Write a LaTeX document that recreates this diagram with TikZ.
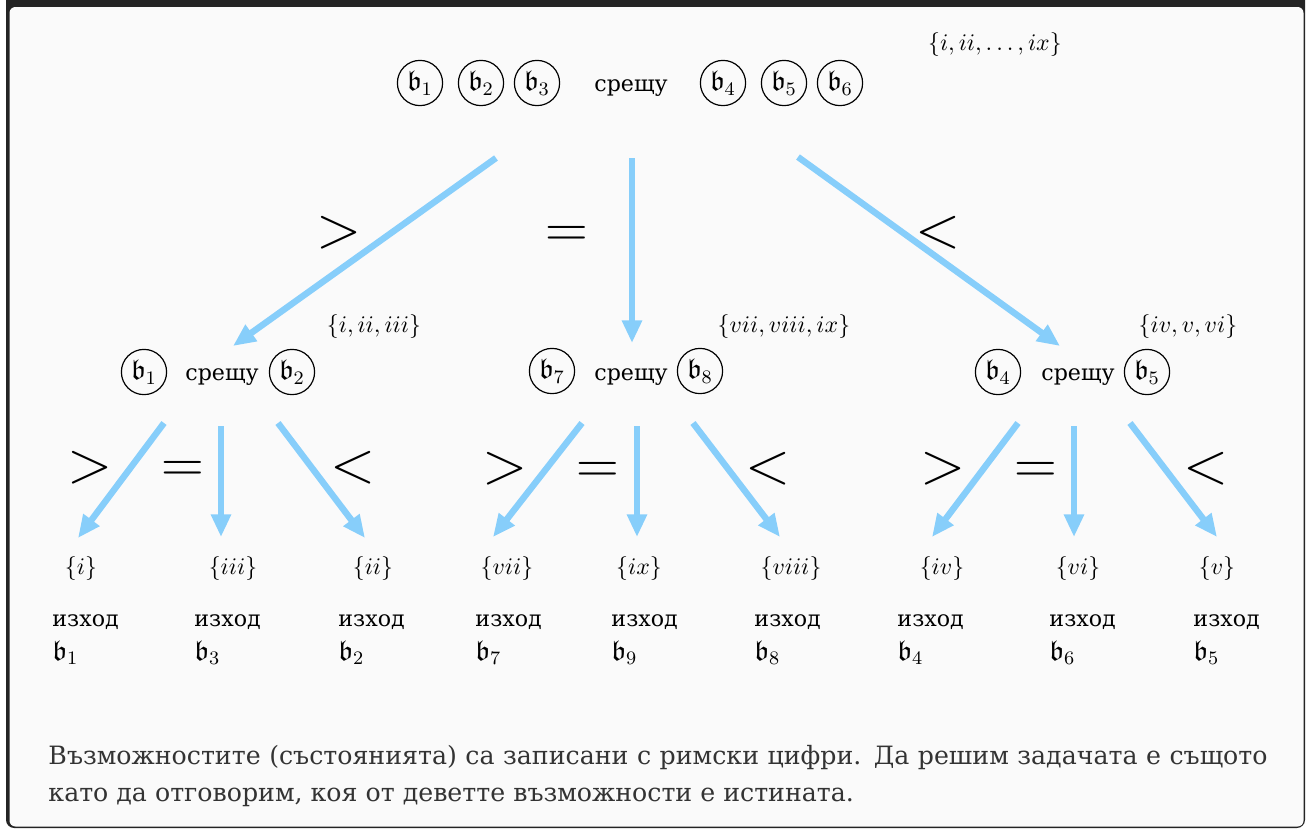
\documentclass[tikz,border=0pt]{standalone}
\usepackage{amsmath,amssymb}
\usepackage{fontspec}
\setmainfont{DejaVu Serif}
\newfontfamily\labelfont{DejaVu Serif}
\usetikzlibrary{arrows.meta, positioning}
\definecolor{framegray}{HTML}{242424}
\definecolor{paneback}{HTML}{FAFAFA}
\definecolor{arrowblue}{HTML}{87CEFA}
\definecolor{textgray}{HTML}{333333}

\begin{document}
\begin{tikzpicture}[
  x=0.42pt, y=-0.42pt,
  coin/.style={circle, draw, line width=0.5pt, inner sep=0.5pt,
               minimum size=19pt, font=\large},
  word/.style={font=\labelfont\fontsize{9.3}{12}\selectfont, inner sep=0pt},
  cmp/.style={font=\Huge, inner sep=0pt, anchor=base},
  states/.style={font=\normalsize, inner sep=0pt},
  exitlbl/.style={font=\labelfont\fontsize{9.3}{12}\selectfont, inner sep=0pt, anchor=base west},
  arr/.style={-{Triangle[length=9.5pt, width=8pt]}, arrowblue, line width=2.7pt},
]
  \useasboundingbox (0,0) rectangle (1306,829);
  % frame
  \begin{scope}
    \clip (0,0) rectangle (1306,829);
    \fill[framegray, rounded corners=3.4pt] (6,-20) rectangle (1305,828);
    \fill[paneback, rounded corners=2.5pt] (9.5,7) rectangle (1303.5,826.5);
  \end{scope}

  % first weighing
  \node[coin] (b1) at (420,83) {$\mathfrak{b}_1$};
  \node[coin] (b2) at (481,83) {$\mathfrak{b}_2$};
  \node[coin] (b3) at (537,83) {$\mathfrak{b}_3$};
  \node[word, anchor=base] (vs) at (631,91) {срещу};
  \node[coin] (b4) at (723,83) {$\mathfrak{b}_4$};
  \node[coin] (b5) at (784,83) {$\mathfrak{b}_5$};
  \node[coin] (b6) at (840,83) {$\mathfrak{b}_6$};
  \node[states] (all) at (995,45) {$\{i, ii, \ldots, ix\}$};

  \node[cmp] (gt) at (339,247) {$>$};
  \node[cmp] (eq) at (567,247) {$=$};
  \node[cmp] (lt) at (938,247) {$<$};

  \coordinate (sL) at (496,158);
  \coordinate (sM) at (632,158);
  \coordinate (sR) at (798,157);
  \coordinate (eL) at (233,346);
  \coordinate (eM) at (632,343);
  \coordinate (eR) at (1060,346);
  \draw[arr] (sL) -- (eL);
  \draw[arr] (sM) -- (eM);
  \draw[arr] (sR) -- (eR);

  % second weighing, left
  \node[coin] (lb1) at (144,372) {$\mathfrak{b}_1$};
  \node[word, anchor=base] (lvs) at (222,380) {срещу};
  \node[coin] (lb2) at (292,372) {$\mathfrak{b}_2$};
  \node[states] (lset) at (374,327) {$\{i, ii, iii\}$};

  % second weighing, middle
  \node[coin] (mb7) at (552,371) {$\mathfrak{b}_7$};
  \node[word, anchor=base] (mvs) at (631,380) {срещу};
  \node[coin] (mb8) at (700,371) {$\mathfrak{b}_8$};
  \node[states] (mset) at (784,327) {$\{vii, viii, ix\}$};

  % second weighing, right
  \node[coin] (rb4) at (998,372) {$\mathfrak{b}_4$};
  \node[word, anchor=base] (rvs) at (1078,380) {срещу};
  \node[coin] (rb5) at (1147,372) {$\mathfrak{b}_5$};
  \node[states] (rset) at (1188,327) {$\{iv, v, vi\}$};

  % comparison signs
  \node[cmp] (lgt) at (90,482)   {$>$};
  \node[cmp] (leq) at (183,482)  {$=$};
  \node[cmp] (llt) at (353,482)  {$<$};
  \node[cmp] (mgt) at (505,483)  {$>$};
  \node[cmp] (meq) at (598,483)  {$=$};
  \node[cmp] (mlt) at (768,483)  {$<$};
  \node[cmp] (rgt) at (943,483)  {$>$};
  \node[cmp] (req) at (1036,483) {$=$};
  \node[cmp] (rlt) at (1206,483) {$<$};

  \coordinate (ls1) at (164,423);  \coordinate (le1) at (78,538);
  \coordinate (ls2) at (221,426);  \coordinate (le2) at (221,537);
  \coordinate (ls3) at (278,423);  \coordinate (le3) at (365,538);
  \coordinate (ms1) at (582,423);  \coordinate (me1) at (493,537);
  \coordinate (ms2) at (637,426);  \coordinate (me2) at (637,537);
  \coordinate (ms3) at (693,423);  \coordinate (me3) at (780,537);
  \coordinate (rs1) at (1018,423); \coordinate (re1) at (932,537);
  \coordinate (rs2) at (1074,426); \coordinate (re2) at (1074,537);
  \coordinate (rs3) at (1130,423); \coordinate (re3) at (1217,537);
  \draw[arr] (ls1) -- (le1);
  \draw[arr] (ls2) -- (le2);
  \draw[arr] (ls3) -- (le3);
  \draw[arr] (ms1) -- (me1);
  \draw[arr] (ms2) -- (me2);
  \draw[arr] (ms3) -- (me3);
  \draw[arr] (rs1) -- (re1);
  \draw[arr] (rs2) -- (re2);
  \draw[arr] (rs3) -- (re3);

  % outcomes
  \node[states] (o1) at (81,569)   {$\{i\}$};
  \node[states] (o3) at (233,569)  {$\{iii\}$};
  \node[states] (o2) at (373,569)  {$\{ii\}$};
  \node[states] (o7) at (507,569)  {$\{vii\}$};
  \node[states] (o9) at (639,569)  {$\{ix\}$};
  \node[states] (o8) at (791,569)  {$\{viii\}$};
  \node[states] (o4) at (942,569)  {$\{iv\}$};
  \node[states] (o6) at (1078,569) {$\{vi\}$};
  \node[states] (o5) at (1217,569) {$\{v\}$};

  \node[exitlbl] (x1) at (52,626)   {изход};
  \node[exitlbl] (x3) at (194,626)  {изход};
  \node[exitlbl] (x2) at (338,626)  {изход};
  \node[exitlbl] (x7) at (475,626)  {изход};
  \node[exitlbl] (x9) at (611,626)  {изход};
  \node[exitlbl] (x8) at (754,626)  {изход};
  \node[exitlbl] (x4) at (897,626)  {изход};
  \node[exitlbl] (x6) at (1049,626) {изход};
  \node[exitlbl] (x5) at (1193,626) {изход};
  \node[exitlbl, font=\large] (c1) at (52,660)   {$\mathfrak{b}_1$};
  \node[exitlbl, font=\large] (c3) at (194,660)  {$\mathfrak{b}_3$};
  \node[exitlbl, font=\large] (c2) at (338,660)  {$\mathfrak{b}_2$};
  \node[exitlbl, font=\large] (c7) at (475,660)  {$\mathfrak{b}_7$};
  \node[exitlbl, font=\large] (c9) at (611,660)  {$\mathfrak{b}_9$};
  \node[exitlbl, font=\large] (c8) at (754,660)  {$\mathfrak{b}_8$};
  \node[exitlbl, font=\large] (c4) at (897,660)  {$\mathfrak{b}_4$};
  \node[exitlbl, font=\large] (c6) at (1049,660) {$\mathfrak{b}_6$};
  \node[exitlbl, font=\large] (c5) at (1193,660) {$\mathfrak{b}_5$};

  % note
  \node[anchor=north west, inner sep=0pt, text width=512pt, align=justify,
        text=textgray, font=\labelfont\fontsize{10.6}{15.5}\selectfont] (note) at (48,745)
    {Възможностите (състоянията) са записани с римски цифри. Да решим задачата е същото\linebreak
     като да отговорим, коя от деветте възможности е истината.};
\end{tikzpicture}
\end{document}
